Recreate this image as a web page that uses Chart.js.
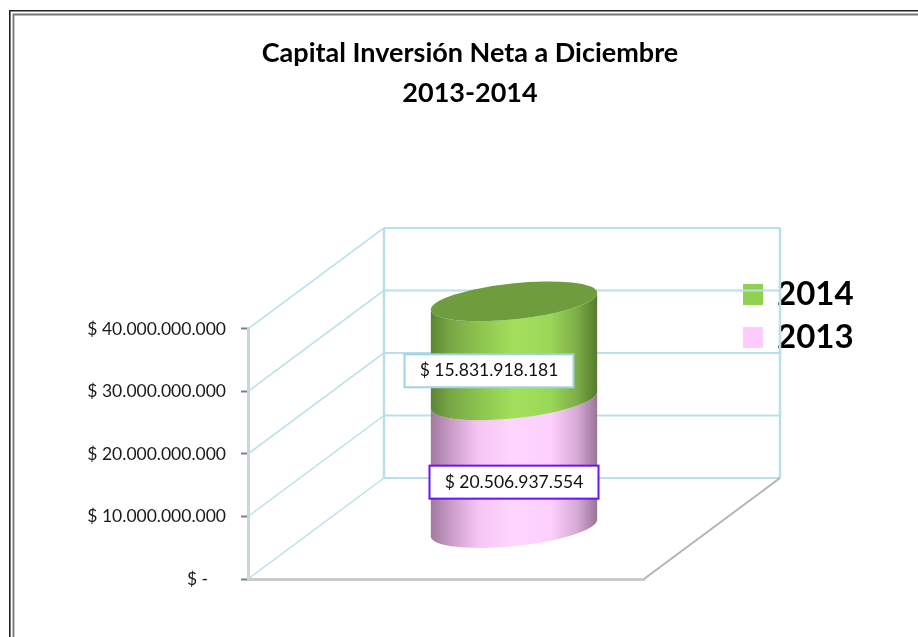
<!DOCTYPE html>
<html>
<head>
<meta charset="utf-8">
<style>html,body{margin:0;padding:0;background:#fff;overflow:hidden}canvas{display:block}</style>
<script src="https://cdn.jsdelivr.net/npm/chart.js@4/dist/chart.umd.min.js"></script>
</head>
<body>
<canvas id="c" width="918" height="637"></canvas>
<script>
const categories = [''];
const seriesNames = ['2013', '2014'];
const values2013 = [20506937554];
const values2014 = [15831918181];
const legendColors = ['#ffccff', '#92d050'];
const titleLines = ['Capital Inversión Neta a Diciembre', '2013-2014'];
const dataLabels = ['$ 20.506.937.554', '$ 15.831.918.181'];
const tickStep = 10000000000;
const axisMax = 40000000000;

const FONT = 'Lato, Carlito, sans-serif';
const DX = 136, DY = -101;               // depth of the 3D box
const RX_ROT = -0.105, RY = 18;          // ellipse shape

function tickText(v) {
  if (v === 0) return '$ -    ';
  return '$ ' + String(v).replace(/\B(?=(\d{3})+(?!\d))/g, '.');
}

const cylinderGradients = [
  [[0,'#a17a9f'],[0.12,'#c99cc7'],[0.28,'#f5c4f3'],[0.48,'#ffd5ff'],[0.72,'#fdd0fd'],[0.88,'#d7a9d5'],[1,'#9a7498']],
  [[0,'#5d8532'],[0.12,'#79a845'],[0.3,'#8dc550'],[0.5,'#a2e05c'],[0.72,'#9ad757'],[0.88,'#7dad47'],[1,'#567a2d']]
];
const labelBorders = ['#6a14f5', '#9fd2e2'];
const labelOffsets = [[0, 18], [-25, 20]];

const box3d = {
  id: 'box3d',
  beforeDraw(chart) {
    const ctx = chart.ctx;
    ctx.save();
    ctx.fillStyle = '#fff';
    ctx.fillRect(0, 0, chart.width, chart.height);
    ctx.lineCap = 'butt';
    ctx.strokeStyle = '#222';
    ctx.lineWidth = 1.6;
    ctx.beginPath(); ctx.moveTo(9.8, chart.height); ctx.lineTo(9.8, 10.8); ctx.lineTo(chart.width, 10.8); ctx.stroke();
    ctx.strokeStyle = '#777';
    ctx.lineWidth = 1.8;
    ctx.beginPath(); ctx.moveTo(13.5, chart.height); ctx.lineTo(13.5, 14.5); ctx.lineTo(chart.width, 14.5); ctx.stroke();
    ctx.restore();

    const t = chart.titleBlock;
    t.left = 22; t.right = chart.width;
    const l = chart.legend;
    const w = l.width, h = l.height;
    l.left = 735.5; l.right = l.left + w;
    l.top = 268; l.bottom = l.top + h;
  },
  beforeDatasetsDraw(chart) {
    const ctx = chart.ctx, y = chart.scales.y, a = chart.chartArea;
    const L = a.left, R = a.right;
    ctx.save();
    // walls
    ctx.strokeStyle = '#b9dfe9';
    ctx.lineWidth = 1.5;
    y.ticks.forEach(t => {
      const p = y.getPixelForValue(t.value);
      ctx.beginPath(); ctx.moveTo(L, p); ctx.lineTo(L + DX, p + DY); ctx.stroke();
    });
    ctx.lineWidth = 2;
    y.ticks.forEach(t => {
      const p = y.getPixelForValue(t.value);
      ctx.beginPath(); ctx.moveTo(L + DX, p + DY); ctx.lineTo(R + DX, p + DY); ctx.stroke();
    });
    ctx.lineWidth = 2.5;
    [L + DX, R + DX].forEach(x => {
      ctx.beginPath(); ctx.moveTo(x, y.top + DY); ctx.lineTo(x, y.bottom + DY); ctx.stroke();
    });
    // floor edge
    ctx.strokeStyle = '#b4b4b4';
    ctx.lineWidth = 2;
    ctx.beginPath(); ctx.moveTo(R, y.bottom); ctx.lineTo(R + DX, y.bottom + DY); ctx.stroke();
    // cylinder
    chart.data.datasets.forEach((ds, i) => {
      const bar = chart.getDatasetMeta(i).data[0];
      const cx = bar.x + DX / 2, rx = bar.width / 2 / Math.cos(RX_ROT);
      const yb = bar.base + DY / 2, yt = bar.y + DY / 2;
      const g = ctx.createLinearGradient(cx - bar.width / 2, 0, cx + bar.width / 2, 0);
      cylinderGradients[i].forEach(s => g.addColorStop(s[0], s[1]));
      ctx.beginPath();
      ctx.ellipse(cx, yb, rx, RY, RX_ROT, 0, Math.PI, false);
      ctx.ellipse(cx, yt, rx, RY, RX_ROT, Math.PI, 0, true);
      ctx.closePath();
      ctx.fillStyle = g;
      ctx.fill();
      if (i === chart.data.datasets.length - 1) {
        ctx.beginPath();
        ctx.ellipse(cx, yt, rx, RY, RX_ROT, 0, Math.PI * 2);
        ctx.fillStyle = '#6f9c3d';
        ctx.fill();
      }
    });
    ctx.restore();
  },
  beforeDatasetDraw() { return false; },
  afterDatasetsDraw(chart) {
    const ctx = chart.ctx;
    ctx.save();
    ctx.font = '17.5px ' + FONT;
    ctx.textAlign = 'center';
    ctx.textBaseline = 'middle';
    chart.data.datasets.forEach((ds, i) => {
      const bar = chart.getDatasetMeta(i).data[0];
      const cx = bar.x + DX / 2 + labelOffsets[i][0];
      const cy = (bar.base + bar.y) / 2 + DY / 2 + labelOffsets[i][1];
      const w = 169, h = 33;
      ctx.fillStyle = '#fff';
      ctx.fillRect(cx - w / 2, cy - h / 2, w, h);
      ctx.strokeStyle = labelBorders[i];
      ctx.lineWidth = 2;
      ctx.strokeRect(cx - w / 2, cy - h / 2, w, h);
      ctx.fillStyle = '#111';
      ctx.fillText(dataLabels[i], cx, cy);
    });
    ctx.restore();
  }
};

new Chart(document.getElementById('c'), {
  type: 'bar',
  plugins: [box3d],
  data: {
    labels: categories,
    datasets: [
      { label: seriesNames[0], data: values2013, backgroundColor: legendColors[0], borderColor: legendColors[0], borderWidth: 5 },
      { label: seriesNames[1], data: values2014, backgroundColor: legendColors[1], borderColor: legendColors[1], borderWidth: 5 }
    ]
  },
  options: {
    responsive: false,
    animation: false,
    layout: { padding: { left: 0, right: 274, top: 0, bottom: 58 } },
    datasets: { bar: { barPercentage: 1, categoryPercentage: 0.42 } },
    scales: {
      x: {
        stacked: true,
        ticks: { display: false },
        grid: { display: false },
        border: { display: true, color: '#cacaca', width: 3 },
        afterFit(s) { s.height = 0; }
      },
      y: {
        stacked: true,
        min: 0,
        max: axisMax,
        ticks: {
          stepSize: tickStep,
          padding: 15,
          color: '#1a1a1a',
          font: { family: FONT, size: 17.5 },
          callback: v => tickText(v)
        },
        grid: { drawOnChartArea: false, drawTicks: true, tickLength: 7, tickColor: '#808080', tickWidth: 2, color: '#808080' },
        border: { display: true, color: '#c9d6da', width: 3 },
        afterFit(s) { s.width = 248; }
      }
    },
    plugins: {
      tooltip: { enabled: false },
      title: {
        display: true,
        text: titleLines,
        color: '#000',
        font: { family: FONT, size: 27, weight: 'bold', lineHeight: 1.48 },
        padding: { top: 33, bottom: 216 }
      },
      legend: {
        position: 'chartArea',
        align: 'start',
        reverse: true,
        labels: {
          color: '#000',
          font: { family: FONT, size: 33, weight: 'bold' },
          boxWidth: 15,
          boxHeight: 16,
          padding: 10
        }
      }
    }
  }
});
</script>
</body>
</html>
